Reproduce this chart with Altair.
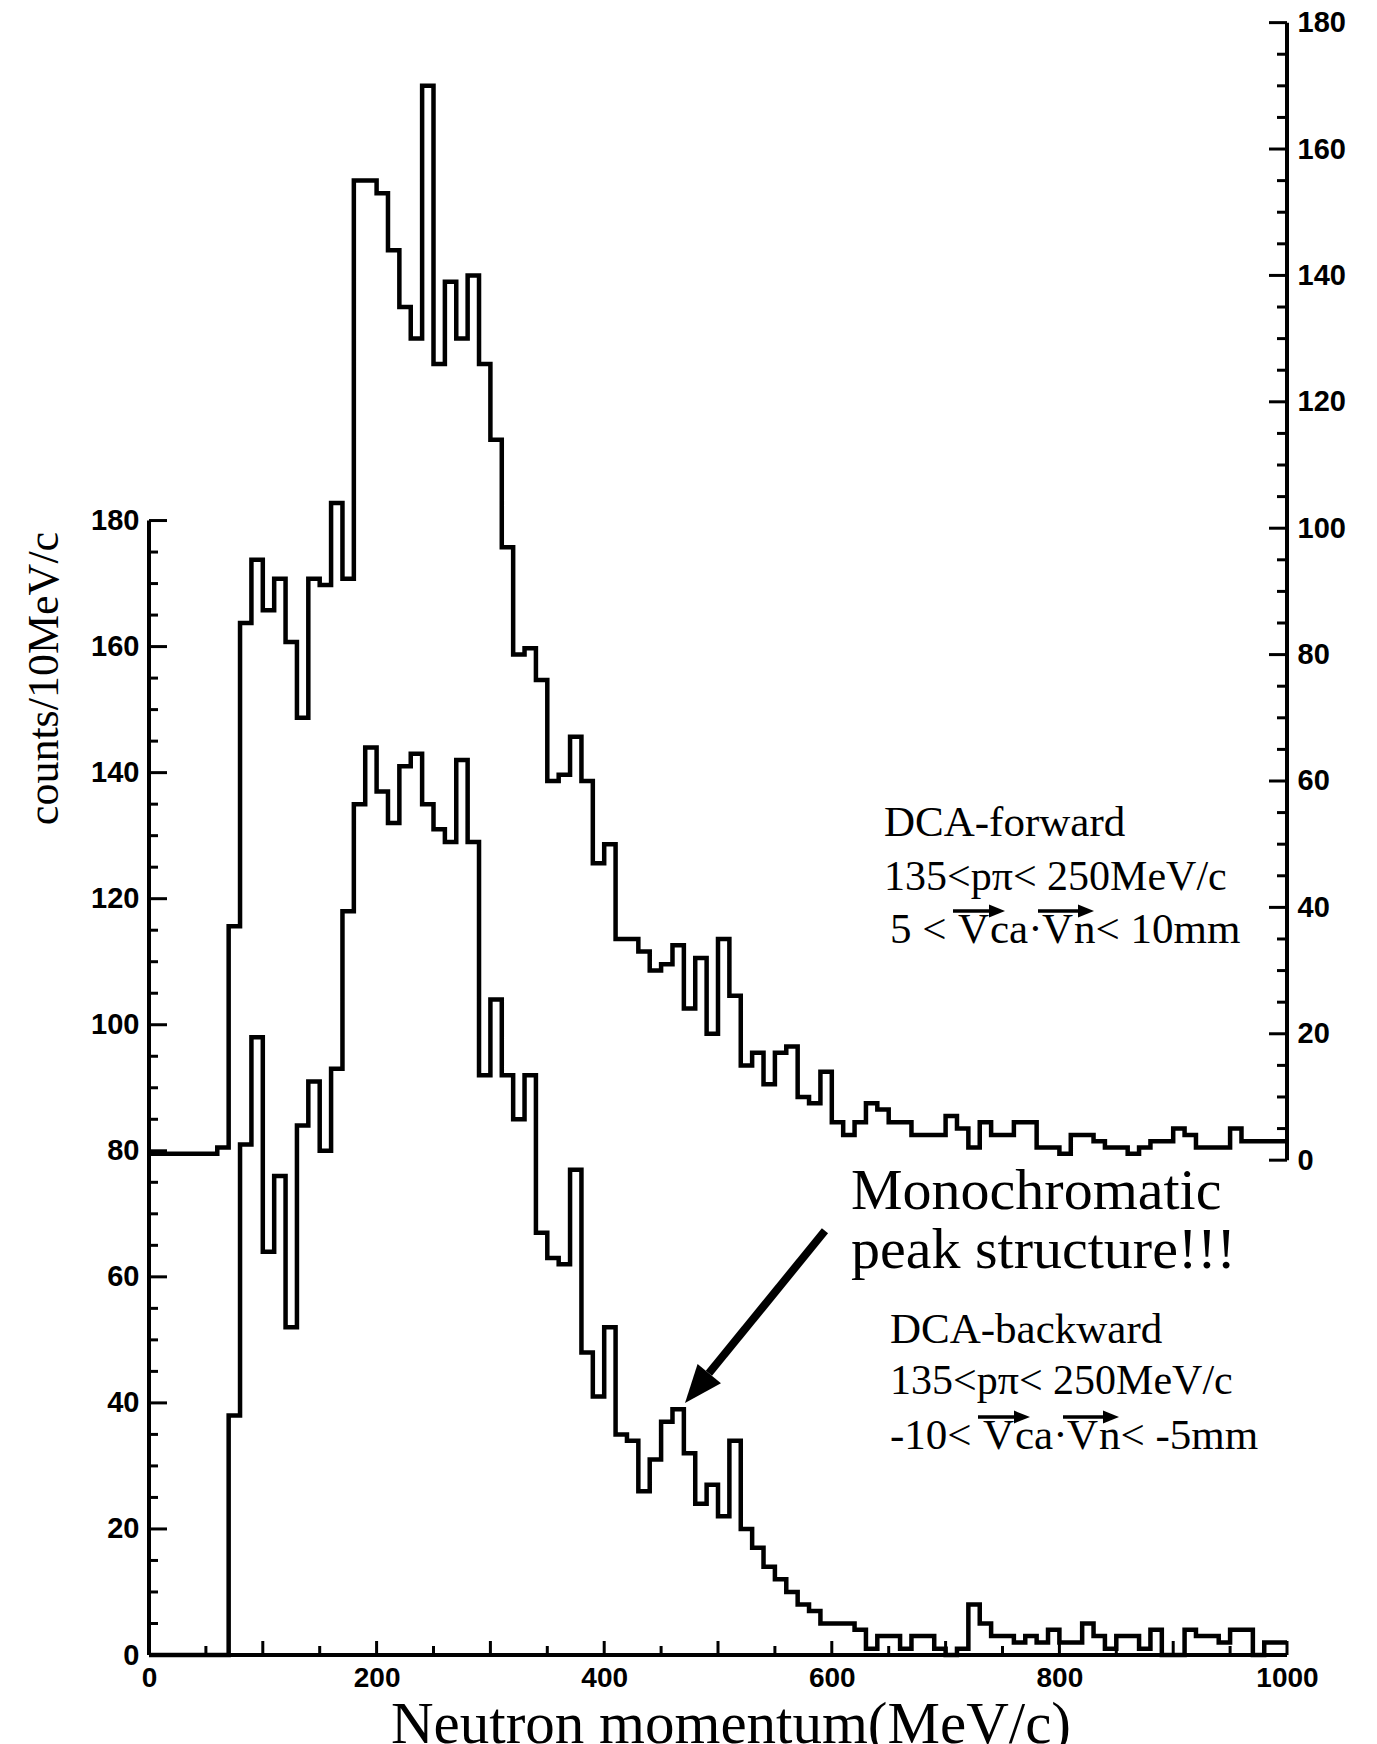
import altair as alt
import pandas as pd

# ---------------- data ----------------
bin_edges = list(range(0, 1001, 10))  # 10 MeV/c bins, 0..1000

# DCA-backward (left axis)
backward_counts = [0, 0, 0, 0, 0, 0, 0, 38, 81, 98,
                   64, 76, 52, 84, 91, 80, 93, 118, 135, 144,
                   137, 132, 141, 143, 135, 131, 129, 142, 129, 92,
                   104, 92, 85, 92, 67, 63, 62, 77, 48, 41,
                   52, 35, 34, 26, 31, 37, 39, 32, 24, 27,
                   22, 34, 20, 17, 14, 12, 10, 8, 7, 5,
                   5, 5, 4, 1, 3, 3, 1, 3, 3, 1,
                   0, 1, 8, 5, 3, 3, 2, 3, 2, 4,
                   2, 2, 5, 3, 1, 3, 3, 1, 4, 0,
                   0, 4, 3, 3, 2, 4, 4, 0, 2, 2]

# DCA-forward (right axis)
forward_counts = [1, 1, 1, 1, 1, 1, 2, 37, 85, 95,
                  87, 92, 82, 70, 92, 91, 104, 92, 155, 155,
                  153, 144, 135, 130, 170, 126, 139, 130, 140, 126,
                  114, 97, 80, 81, 76, 60, 61, 67, 60, 47,
                  50, 35, 35, 33, 30, 31, 34, 24, 32, 20,
                  35, 26, 15, 17, 12, 17, 18, 10, 9, 14,
                  6, 4, 6, 9, 8, 6, 6, 4, 4, 4,
                  7, 5, 2, 6, 4, 4, 6, 6, 2, 2,
                  1, 4, 4, 3, 2, 2, 1, 2, 3, 3,
                  5, 4, 2, 2, 2, 5, 3, 3, 3, 3]

y_major_ticks = list(range(0, 181, 20))
y_minor_ticks = [v for v in range(0, 181, 5) if v % 20]
x_label_values = [0, 200, 400, 600, 800, 1000]
x_major_ticks = list(range(0, 1001, 100))
x_minor_ticks = list(range(50, 1000, 100))

# annotation arrow (MeV/c, counts on left axis)
arrow_start = (594, 67.3)
arrow_end = (492, 44.7)
arrow_tip = (471, 40.0)

# ---------------- layout ----------------
W, H = 1138, 1633
left_domain = [0, 259.1]
right_domain = [-78.3, 180.1]

xsc = alt.Scale(domain=[0, 1000], nice=False, zero=False)
ysl = alt.Scale(domain=left_domain, nice=False, zero=False)
ysr = alt.Scale(domain=right_domain, nice=False, zero=False)

LBL = dict(labelFont="Liberation Sans", labelFontWeight="bold", labelFontSize=29,
           labelColor="black", labelFlush=False, labelOverlap=False, labelBound=False)

X_AXIS = alt.Axis(values=x_label_values, ticks=False, domain=False, grid=False,
                  labelPadding=9, format="d", title=None,
                  **{**LBL, "labelFontSize": 28})
YL_AXIS = alt.Axis(values=y_major_ticks, ticks=False, domain=False, grid=False,
                   labelPadding=10, format="d",
                   title="counts/10MeV/c", titleFont="Liberation Serif",
                   titleFontSize=44, titleFontWeight="normal", titleColor="black",
                   titleX=-105, titleY=656, titleAngle=270, titleAlign="center",
                   titleBaseline="middle", **LBL)
YR_AXIS = alt.Axis(orient="right", values=y_major_ticks, ticks=False, domain=False,
                   grid=False, labelPadding=10, format="d", title=None, **LBL)

bw = pd.DataFrame({"p": bin_edges, "c": backward_counts + [backward_counts[-1]]})
fw = pd.DataFrame({"p": bin_edges, "c": forward_counts + [forward_counts[-1]]})

LW = 4.5
back = alt.Chart(bw).mark_line(interpolate="step-after", color="black", strokeWidth=LW,
                               strokeJoin="miter").encode(
    x=alt.X("p:Q", scale=xsc, axis=X_AXIS),
    y=alt.Y("c:Q", scale=ysl, axis=YL_AXIS),
)

fore = alt.Chart(fw).mark_line(interpolate="step-after", color="black", strokeWidth=LW,
                               strokeJoin="miter").encode(
    x=alt.X("p:Q", scale=xsc, axis=X_AXIS),
    y=alt.Y("c:Q", scale=ysr, axis=YR_AXIS),
)

def yrule(vals, scale, yaxis, x0, x1, width=3):
    return alt.Chart(pd.DataFrame({"v": vals})).mark_rule(color="black", strokeWidth=width).encode(
        y=alt.Y("v:Q", scale=scale, axis=yaxis), x=alt.value(x0), x2=alt.value(x1))

def xrule(vals, y0, y1, width=3):
    return alt.Chart(pd.DataFrame({"p": vals})).mark_rule(color="black", strokeWidth=width).encode(
        x=alt.X("p:Q", scale=xsc, axis=X_AXIS), y=alt.value(y0), y2=alt.value(y1))

def vline(scale, yaxis, xpix):
    return alt.Chart(pd.DataFrame({"lo": [0], "hi": [180]})).mark_rule(color="black", strokeWidth=4).encode(
        x=alt.value(xpix), y=alt.Y("lo:Q", scale=scale, axis=yaxis), y2="hi:Q")

x_axis_line = alt.Chart(pd.DataFrame({"a": [0], "b": [1000], "v": [0]})).mark_rule(
    color="black", strokeWidth=4).encode(
    x=alt.X("a:Q", scale=xsc, axis=X_AXIS), x2="b:Q", y=alt.Y("v:Q", scale=ysl, axis=YL_AXIS))

arrow = alt.Chart(pd.DataFrame({"p0": [arrow_start[0]], "v0": [arrow_start[1]],
                                "p1": [arrow_end[0]], "v1": [arrow_end[1]]})).mark_rule(
    color="black", strokeWidth=8).encode(
    x=alt.X("p0:Q", scale=xsc, axis=X_AXIS), y=alt.Y("v0:Q", scale=ysl, axis=YL_AXIS),
    x2="p1:Q", y2="v1:Q")

head = alt.Chart(pd.DataFrame({"p": [arrow_tip[0]], "v": [arrow_tip[1]]})).mark_point(
    shape="M0,0L0.8,2L-0.8,2Z", size=1444, angle=219.7, filled=True, color="black",
    opacity=1, strokeWidth=0).encode(
    x=alt.X("p:Q", scale=xsc, axis=X_AXIS), y=alt.Y("v:Q", scale=ysl, axis=YL_AXIS))

def label(txt, x, y, size, font="Liberation Serif", weight="normal", align="left",
          baseline="alphabetic"):
    return alt.Chart(pd.DataFrame({"t": [txt]})).mark_text(
        align=align, baseline=baseline, font=font, fontSize=size, fontWeight=weight,
        color="black").encode(text="t:N", x=alt.value(x), y=alt.value(y))

def vec_arrow(x0, x1, y):
    """small vector arrow drawn over a letter (pixel positions)"""
    shaft = alt.Chart(pd.DataFrame({"k": [0]})).mark_rule(color="black", strokeWidth=3.5).encode(
        x=alt.value(x0), x2=alt.value(x1 - 8), y=alt.value(y), y2=alt.value(y))
    tip = alt.Chart(pd.DataFrame({"k": [0]})).mark_point(
        shape="M0,0L0.8,2L-0.8,2Z", size=256, angle=90, filled=True, color="black",
        opacity=1, strokeWidth=0).encode(x=alt.value(x1), y=alt.value(y))
    return [shaft, tip]

FS = 43
texts = [
    label("DCA-forward", 735, 814, FS),
    label("135<pπ< 250MeV/c", 735, 868, 42),
    label("5 < ", 741, 921, FS),
    label("V", 809, 921, FS),
    label("ca·", 841, 921, FS),
    label("V", 893, 921, FS),
    label("n< 10mm", 925, 921, FS),
    label("Monochromatic", 702, 1187, 58),
    label("peak structure!!!", 702, 1246, 58),
    label("DCA-backward", 741, 1321, FS),
    label("135<pπ< 250MeV/c", 741, 1372, 42),
    label("-10< ", 741, 1427, FS),
    label("V", 834, 1427, FS),
    label("ca·", 866, 1427, FS),
    label("V", 918, 1427, FS),
    label("n< -5mm", 950, 1427, FS),
    label("Neutron momentum(MeV/c)", 582, 1721, 59, align="center"),
]
arrows_small = (vec_arrow(804, 856, 889) + vec_arrow(889, 945, 889)
                + vec_arrow(829, 881, 1395) + vec_arrow(914, 970, 1395))

left_group = alt.layer(
    back,
    vline(ysl, YL_AXIS, 0),
    x_axis_line,
    yrule(y_major_ticks, ysl, YL_AXIS, 0, 18),
    yrule(y_minor_ticks, ysl, YL_AXIS, 0, 9),
    xrule(x_major_ticks, H, H - 14),
    xrule(x_minor_ticks, H, H - 9),
    arrow,
    head,
    *texts,
    *arrows_small,
)

right_group = alt.layer(
    fore,
    vline(ysr, YR_AXIS, W),
    yrule(y_major_ticks, ysr, YR_AXIS, W - 18, W),
    yrule(y_minor_ticks, ysr, YR_AXIS, W - 10, W),
)

chart = alt.layer(left_group, right_group).resolve_scale(y="independent").properties(
    width=W, height=H,
    padding={"left": 149, "top": 22, "right": 90, "bottom": 89},
    autosize=alt.AutoSizeParams(type="none"),
    background="white",
).configure_view(stroke=None)

chart.save("out.html", embed_options={"renderer": "svg", "actions": False})
